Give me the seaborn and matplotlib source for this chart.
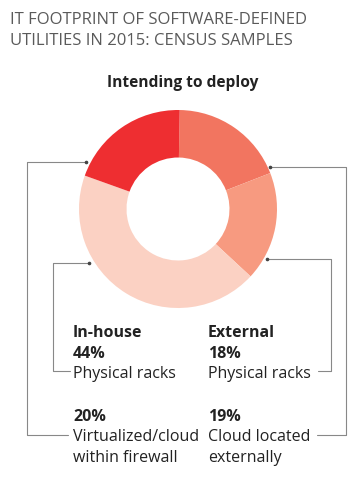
import matplotlib
matplotlib.use('Agg')
import matplotlib.pyplot as plt
import seaborn as sns

# data: clockwise from 12 o'clock
segments = ['Cloud located externally', 'External physical racks',
            'In-house physical racks', 'Virtualized/cloud within firewall']
shares = [19, 18, 44, 20]
seg_colors = ['#F27560', '#F79A80', '#FBD1C3', '#EE2E31']

title = 'IT FOOTPRINT OF SOFTWARE-DEFINED\nUTILITIES IN 2015: CENSUS SAMPLES'
subtitle = 'Intending to deploy'
group_labels = ['In-house', 'External']
pct_labels = ['44%', '18%', '20%', '19%']
desc_labels = ['Physical racks', 'Physical racks',
               'Virtualized/cloud\nwithin firewall', 'Cloud located\nexternally']

sns.set_theme(style='white')
plt.rcParams['font.family'] = ['Open Sans', 'DejaVu Sans']

W, H = 358, 481
fig = plt.figure(figsize=(W / 100, H / 100), dpi=100)

# donut
cx, cy, r = 178, 210, 99
pax = fig.add_axes([(cx - r) / W, (H - cy - r) / H, 2 * r / W, 2 * r / H])
pax.pie(shares, colors=sns.color_palette(seg_colors), startangle=89, counterclock=False,
        radius=1, wedgeprops=dict(width=0.48, linewidth=0))
pax.set_xlim(-1, 1)
pax.set_ylim(-1, 1)
pax.set_aspect('equal')
pax.axis('off')

# overlay in pixel coords for text and leaders
ax = fig.add_axes([0, 0, 1, 1], zorder=-1)
ax.set_xlim(0, W)
ax.set_ylim(H, 0)
ax.axis('off')

tc = '#5a5a5a'
ax.text(10, 24, title.split('\n')[0], fontsize=12, color=tc, va='baseline')
ax.text(10, 45, title.split('\n')[1], fontsize=12, color=tc, va='baseline')
ax.text(183, 87, subtitle, fontsize=11.2, fontweight='bold', color='#222222', ha='center', va='baseline')

dark = '#222222'
fs = 11.5
xl, xr = 73, 208
ax.text(xl, 337, group_labels[0], fontsize=fs, fontweight='bold', color=dark)
ax.text(xr, 337, group_labels[1], fontsize=fs, fontweight='bold', color=dark)
ax.text(xl, 358, pct_labels[0], fontsize=fs, fontweight='bold', color=dark)
ax.text(xr, 358, pct_labels[1], fontsize=fs, fontweight='bold', color=dark)
ax.text(xl, 378, desc_labels[0], fontsize=fs, color=dark)
ax.text(xr, 378, desc_labels[1], fontsize=fs, color=dark)
ax.text(xl, 421, pct_labels[2], fontsize=fs, fontweight='bold', color=dark)
ax.text(xr, 421, pct_labels[3], fontsize=fs, fontweight='bold', color=dark)
for i, line in enumerate(desc_labels[2].split('\n')):
    ax.text(xl, 441 + 21 * i, line, fontsize=fs, color=dark)
for i, line in enumerate(desc_labels[3].split('\n')):
    ax.text(xr, 441 + 21 * i, line, fontsize=fs, color=dark)

# leader lines
lc = '#888888'
leaders = [
    ([86, 27, 27, 68], [163, 163, 436, 436]),
    ([89, 53, 53, 70], [264, 264, 372, 372]),
    ([267, 331, 331, 318], [260, 260, 372, 372]),
    ([270, 346, 346, 317], [168, 168, 436, 436]),
]
for xs, ys in leaders:
    ax.plot(xs, ys, color=lc, lw=0.8)
    ax.plot(xs[0], ys[0], 'o', color='#444444', ms=1.6)

fig.savefig('out.png', dpi=100)
